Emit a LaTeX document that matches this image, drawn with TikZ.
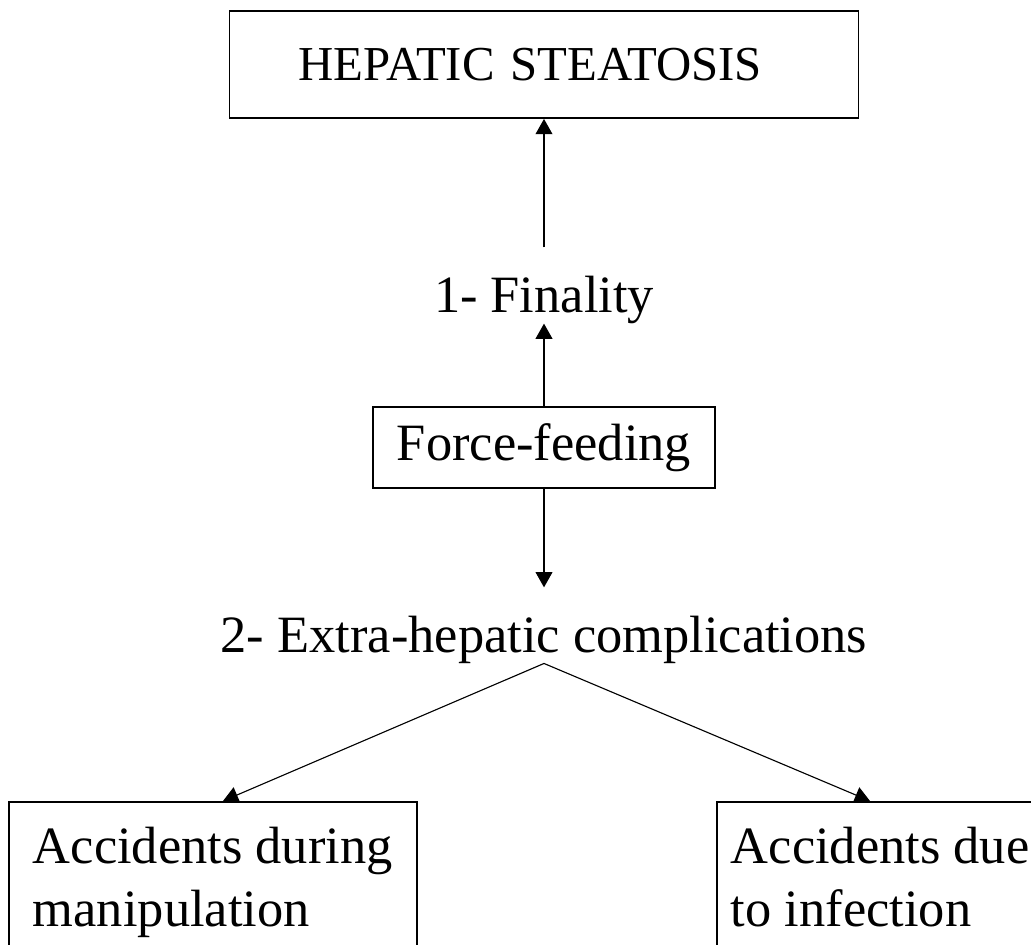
\documentclass[tikz,border=0pt]{standalone}
\usepackage{fontspec}
\setmainfont{Liberation Serif}
\usetikzlibrary{arrows.meta,positioning,calc}

\begin{document}
\begin{tikzpicture}[
    box/.style={draw, line width=1.3pt, inner sep=0pt},
    txt/.style={inner sep=0pt, font=\fontsize{37.3}{44.8}\selectfont},
    link/.style={line width=0.8pt, -{Triangle[width=0.42cm,length=0.38cm]}}
]
    \useasboundingbox (0,0) rectangle (25.775,-23.6);

    % Top box
    \node[box, txt, font=\fontsize{34.7}{41.6}\selectfont, text width=12.275cm, align=left,
          inner xsep=1.725cm, minimum height=2.675cm] (steatosis) at (13.6,-1.6125) {HEPATIC STEATOSIS};

    % Middle column
    \node[txt, anchor=base] (finality) at (13.6,-7.8) {1- Finality};
    \node[box, txt, minimum width=8.55cm, minimum height=2.025cm] (feeding) at (13.6,-11.1875) {Force-feeding};
    \node[txt, anchor=base] (complications) at (13.6,-16.3) {2- Extra-hepatic complications};

    % Bottom boxes
    \node[box, txt, anchor=north west, align=left, inner xsep=0.6cm, inner ysep=0.625cm] (manip) at (0.2,-20.025) {Accidents during\\manipulation};
    \node[box, txt, anchor=north west, align=left, inner xsep=0.35cm, inner ysep=0.625cm] (infect) at (17.9,-20.025) {Accidents due\\to infection};

    % Arrows
    \draw[link, shorten <=0.7cm] (finality.north) -- (steatosis.south);
    \draw[link] (feeding.north) -- (finality.south);
    \draw[link, shorten >=0.7cm] (feeding.south) -- (complications.north);
    \draw[link] (complications.south) -- ([xshift=5.375cm]manip.north west);
    \draw[link] (complications.south) -- ([xshift=3.85cm]infect.north west);
\end{tikzpicture}
\end{document}
